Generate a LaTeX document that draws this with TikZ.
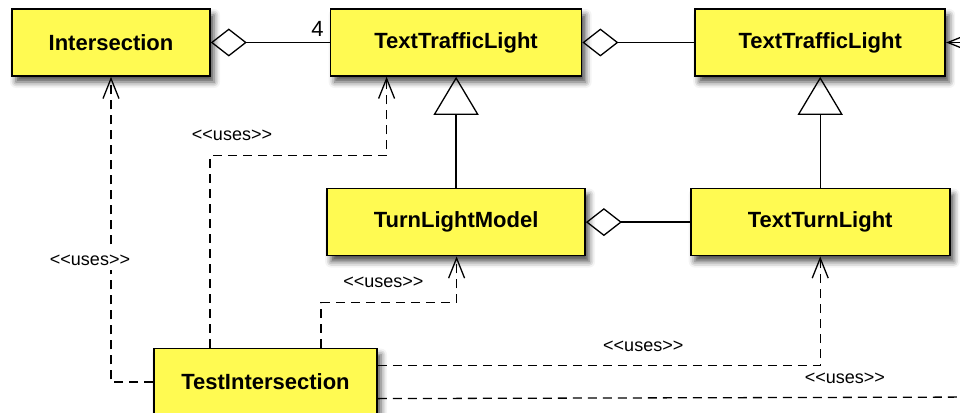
\documentclass[tikz,border=0pt]{standalone}
\usepackage{fontspec}
\setmainfont{Liberation Sans}
\usetikzlibrary{positioning,arrows.meta,calc,shadows.blur}
\definecolor{umlyellow}{RGB}{255,250,82}
\newcommand{\usestext}{<\kern0pt<uses>\kern0pt>}
\tikzset{
  cls/.style={rectangle, draw=black, line width=1.6pt, fill=umlyellow,
    minimum height=67pt, font=\bfseries\fontsize{22}{26}\selectfont,
    blur shadow={shadow xshift=4pt, shadow yshift=-6pt, shadow blur radius=6pt, shadow opacity=70}},
  aggr/.style={{Diamond[open,length=36pt,width=28pt]}-, line width=1.3pt},
  inherit/.style={-{Triangle[open,length=38pt,width=45pt]}, line width=1.3pt},
  nav/.style={-{Straight Barb[length=20pt,width=16pt]}, line width=1.3pt},
  uses/.style={-{Straight Barb[length=20pt,width=16pt]}, line width=1.3pt, dash pattern=on 9pt off 6pt},
  usesline/.style={line width=1.3pt, dash pattern=on 9pt off 6pt},
  lbl/.style={fill=white, font=\fontsize{18}{21}\selectfont, inner xsep=12pt, inner ysep=5pt},
  mult/.style={font=\fontsize{22}{26}\selectfont, inner sep=0pt}
}
\begin{document}
\begin{tikzpicture}[x=1pt,y=1pt]
  \useasboundingbox (0,0) rectangle (960,-412);

  % top row of classes
  \node[cls, minimum width=198pt] (Inter) at (111,-42.5) {Intersection};
  \node[cls, minimum width=251pt] (ttl) [right=119pt of Inter] {TextTrafficLight};
  \node[cls, minimum width=250pt] (ttlText) [right=112pt of ttl] {TextTrafficLight};

  % second row and the test class
  \node[cls, minimum width=258pt] (tlm) [below=111pt of ttl] {TurnLightModel};
  \node[cls, minimum width=259pt] (ttt) [below=111pt of ttlText] {TextTurnLight};
  \node[cls, minimum width=223pt] (test) [below=271pt of Inter, xshift=154.5pt] {TestIntersection};

  % aggregations and inheritance
  \draw[aggr] (Inter) -- (ttl);
  \node[mult, anchor=south east] (four) at ([xshift=-6pt,yshift=6pt]ttl.west) {4};
  \draw[aggr] (ttl) -- (ttlText);
  \draw[aggr] (tlm) -- (ttt);
  \draw[inherit] (tlm) -- (ttl);
  \draw[inherit] (ttt) -- (ttlText);

  % incoming association from the right
  \coordinate (offR) at ([xshift=60pt]ttlText.east);
  \draw[nav] (offR) -- (ttlText.east);

  % uses dependencies of the test class
  \draw[uses] (test.west) -| node[lbl, pos=0.7, xshift=-21pt] (uses1) {\usestext} (Inter.south);
  \draw[uses] ([xshift=-55.5pt]test.north) -- ++(0,192)
    -| node[lbl, pos=0, anchor=south, yshift=9pt, xshift=22pt] (uses2) {\usestext} ([xshift=-69.5pt]ttl.south);
  \draw[uses] ([xshift=55.5pt]test.north) -- ++(0,45)
    -| node[lbl, pos=0.23, anchor=south, yshift=9pt] (uses3) {\usestext} ([xshift=0.5pt]tlm.south);
  \draw[uses] ([yshift=16.5pt]test.east) -| node[lbl, pos=0.3, anchor=south, yshift=8pt] (uses4) {\usestext} (ttt.south);
  \coordinate (offB) at (990,-397);
  \draw[usesline] ([yshift=-16.5pt]test.east) -- node[lbl, pos=0.763, anchor=south, yshift=8pt] (uses5) {\usestext} (offB);
\end{tikzpicture}
\end{document}
